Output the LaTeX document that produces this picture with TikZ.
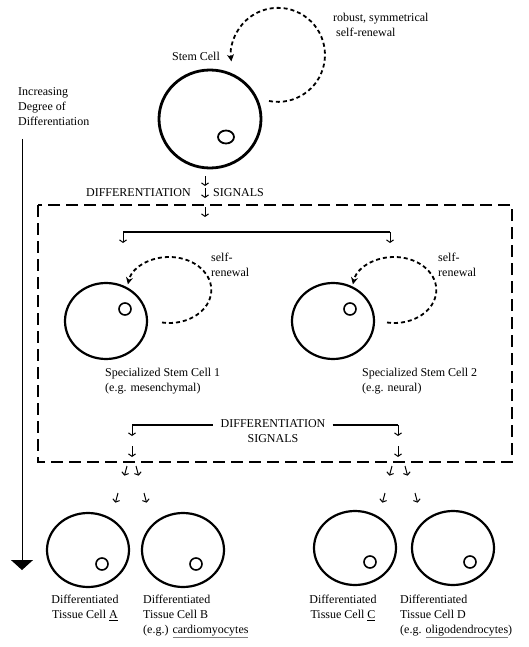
\documentclass[tikz,border=0pt]{standalone}
\usepackage{fontspec}
\setmainfont{Liberation Serif}
\usetikzlibrary{arrows.meta,positioning,shapes.geometric}
\newcommand\lightul[1]{{\color{gray}\underline{\color{black}#1}}}

\begin{document}
\begin{tikzpicture}[
  x=1pt,y=-1pt,
  font=\fontsize{12}{15}\selectfont,
  cell/.style={draw,ellipse,line width=2.2pt,minimum width=82pt,minimum height=75pt,inner sep=0pt},
  stemcell/.style={cell,line width=2.8pt,minimum width=102pt,minimum height=98pt},
  nuc/.style={draw,circle,line width=1.6pt,minimum size=12pt,inner sep=0pt},
  renew/.style={line width=1.8pt,dash pattern=on 4pt off 3pt,-{Stealth[length=7pt,width=7pt]}},
  sarr/.style={line width=1pt,-{Straight Barb[length=2.5pt,width=7pt]}},
  sigbar/.style={line width=2.4pt},
  sigbox/.style={line width=1.3pt,dash pattern=on 12pt off 6pt},
  degarr/.style={line width=1pt,-{Triangle[width=22pt,length=10pt]}},
  lbl/.style={inner sep=0pt,align=left}
]
  \useasboundingbox (0,0) rectangle (528,647);

  \node[stemcell] (stem) at (210,119) {};
  \node[draw,ellipse,line width=1.8pt,minimum width=16pt,minimum height=13pt,inner sep=0pt] (stemnuc) at (226,137) {};
  \node[inner sep=0pt] (stemlbl) at (196,56) {Stem Cell};
  \coordinate (sl0) at (269,101);
  \draw[renew] (sl0) arc[start angle=101,end angle=-188,radius=47];
  \node[lbl,anchor=north west] (robust) at (333,13) {robust, symmetrical\\\ self-renewal};

  \node[lbl,anchor=north west] (deglbl) at (18,87) {Increasing\\Degree of\\Differentiation};
  \coordinate (axtop) at (22,139);
  \coordinate (axbot) at (22,570);
  \draw[degarr] (axtop) -- (axbot);

  \node[inner sep=0pt,anchor=east] (diff1) at (191,193) {DIFFERENTIATION};
  \node[inner sep=0pt,anchor=west] (sig1) at (213,193) {SIGNALS};

  \coordinate (boxnw) at (38,205);
  \coordinate (boxse) at (512,462);
  \draw[sigbox] (boxnw) rectangle (boxse);

  \coordinate (b1a) at (123,232);
  \coordinate (b1b) at (390,232);
  \draw[sigbar] (b1a) -- (b1b);

  \node[cell,minimum height=76pt] (spec1) at (106,321) {};
  \node[nuc] (spec1nuc) at (125,309) {};
  \node[cell,minimum height=76pt] (spec2) at (333,321) {};
  \node[nuc] (spec2nuc) at (350,309) {};
  \coordinate (sl1) at (162,322.5);
  \coordinate (sl2) at (387,322.5);
  \draw[renew] (sl1) arc[start angle=100,end angle=-170,x radius=42,y radius=33];
  \draw[renew] (sl2) arc[start angle=100,end angle=-170,x radius=42,y radius=33];
  \node[lbl,anchor=north west] (sr1) at (211,253) {self-\\renewal};
  \node[lbl,anchor=north west] (sr2) at (438,253) {self-\\renewal};
  \node[lbl,anchor=north west] (spec1lbl) at (105,368) {Specialized Stem Cell 1\\(e.g. mesenchymal)};
  \node[lbl,anchor=north west] (spec2lbl) at (362,368) {Specialized Stem Cell 2\\(e.g. neural)};

  \node[inner xsep=7pt,inner ysep=0pt,align=center] (diff2) at (273,431) {DIFFERENTIATION\\SIGNALS};
  \coordinate (b2a) at (132,425);
  \coordinate (b2b) at (398,425);
  \draw[sigbar] (b2a) -- (diff2.west |- b2a);
  \draw[sigbar] (diff2.east |- b2a) -- (b2b);

  \foreach \i/\x/\y/\a/\l in {1/205/176/90/10, 2/205/188/90/10, 3/205/207/90/10,
      4/123/232/90/11, 5/390/232/90/11, 6/132/425/90/11, 7/398/425/90/11,
      8/132/446/90/11, 9/398/446/90/11,
      10/127/466/105/10, 11/136/466/75/10, 12/118/493/105/10, 13/144/493/75/10,
      14/392/466/105/10, 15/405/466/75/10, 16/385/493/105/10, 17/415/493/75/10} {
    \coordinate (s\i) at (\x,\y);
    \coordinate (e\i) at ([shift={(\a:\l)}]s\i);
    \draw[sarr] (s\i) -- (e\i);
  }

  \node[cell,minimum height=74pt] (tisA) at (88,550) {};
  \node[nuc] (tisAnuc) at (102,564) {};
  \node[cell,minimum height=74pt] (tisB) at (183,550) {};
  \node[nuc] (tisBnuc) at (196,564) {};
  \node[cell,minimum height=74pt] (tisC) at (355,548) {};
  \node[nuc] (tisCnuc) at (370,562) {};
  \node[cell,minimum height=74pt] (tisD) at (453,548) {};
  \node[nuc] (tisDnuc) at (470,562) {};

  \node[inner sep=0pt,align=center,anchor=north] (tisAlbl) at (85,595) {Differentiated\\Tissue Cell \underline{A}};
  \node[lbl,anchor=north west] (tisBlbl) at (143,595) {Differentiated\\Tissue Cell B\\(e.g.) \lightul{cardiomyocytes}};
  \node[inner sep=0pt,align=center,anchor=north] (tisClbl) at (343,595) {Differentiated\\Tissue Cell \underline{C}};
  \node[lbl,anchor=north west] (tisDlbl) at (400,595) {Differentiated\\Tissue Cell D\\(e.g. \lightul{oligodendrocytes})};
\end{tikzpicture}
\end{document}
